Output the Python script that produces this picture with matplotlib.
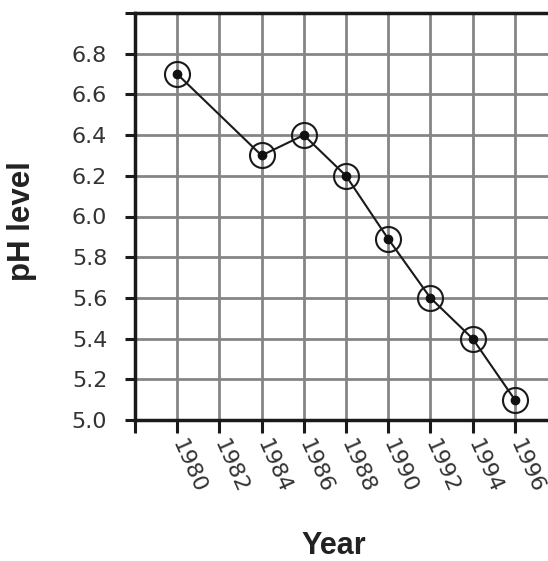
import matplotlib
matplotlib.use("Agg")
import matplotlib.pyplot as plt
import numpy as np

years = [1980, 1984, 1986, 1988, 1990, 1992, 1994, 1996]
ph = [6.7, 6.3, 6.4, 6.2, 5.89, 5.6, 5.4, 5.1]
x_ticks = [1978, 1980, 1982, 1984, 1986, 1988, 1990, 1992, 1994, 1996]
x_labels = ["", "1980", "1982", "1984", "1986", "1988", "1990", "1992", "1994", "1996"]
y_ticks = [5.0, 5.2, 5.4, 5.6, 5.8, 6.0, 6.2, 6.4, 6.6, 6.8, 7.0]
y_labels = ["5.0", "5.2", "5.4", "5.6", "5.8", "6.0", "6.2", "6.4", "6.6", "6.8", ""]

plt.rcParams['font.family'] = ['Liberation Sans', 'DejaVu Sans']

W, H = 548, 561
fig = plt.figure(figsize=(W / 100, H / 100), dpi=100)
left, right, top, bottom = 135, 548, 13, 420
ax = fig.add_axes([left / W, 1 - bottom / H, (right - left) / W, (bottom - top) / H])

ax.set_xlim(1978, 1978 + (right - left) / 21.1)
ax.set_ylim(5.0, 7.0)

ax.set_xticks(x_ticks)
ax.set_xticklabels(x_labels)
ax.set_yticks(y_ticks)
ax.set_yticklabels(y_labels)

ax.grid(True, color='#858585', linewidth=2.0)
ax.set_axisbelow(True)

ax.spines['right'].set_visible(False)
for s in ['left', 'bottom', 'top']:
    ax.spines[s].set_linewidth(2.5)
    ax.spines[s].set_color('#1a1a1a')
    ax.spines[s].set_zorder(5)

ax.tick_params(axis='y', direction='out', length=7, width=2.2, color='#1a1a1a',
               labelsize=16, pad=13, labelcolor='#333333')
ax.tick_params(axis='x', direction='out', length=9, width=2.2, color='#1a1a1a',
               labelsize=16, pad=6, labelcolor='#333333')
for lab in ax.get_xticklabels() + ax.get_yticklabels():
    lab.set_family(['DejaVu Sans'])
plt.setp(ax.get_xticklabels(), rotation=-66, ha='left', va='center', rotation_mode='anchor')

ax.plot(years, ph, color='#1a1a1a', linewidth=1.5, zorder=3)
ax.plot(years, ph, linestyle='none', marker='o', markersize=18, markerfacecolor='none',
        markeredgecolor='#1a1a1a', markeredgewidth=1.5, zorder=4)
ax.plot(years, ph, linestyle='none', marker='o', markersize=6, markerfacecolor='#111111',
        markeredgecolor='#111111', zorder=4)

ax.set_ylabel('pH level', fontsize=22.5, fontweight='bold', color='#222222')
ax.yaxis.set_label_coords((37 - left) / (right - left), (bottom - 221.5) / (bottom - top))
ax.set_xlabel('Year', fontsize=22, fontweight='bold', color='#222222')
ax.xaxis.set_label_coords((334 - left) / (right - left), -(531 - bottom) / (bottom - top))

fig.savefig('out.png', dpi=100)
